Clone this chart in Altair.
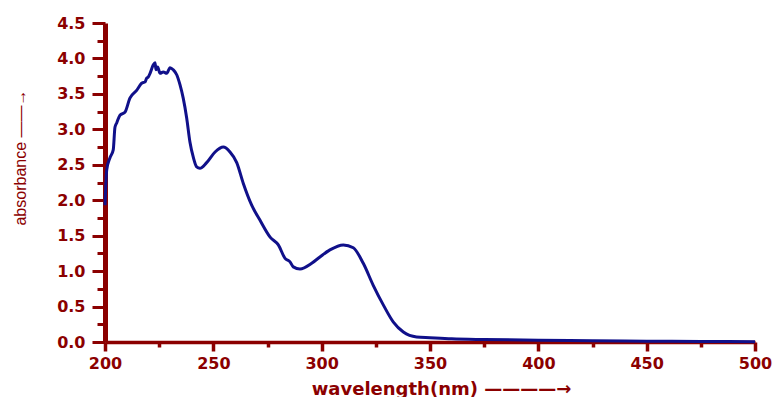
import altair as alt
import pandas as pd

wavelength = [200.0, 200.8, 202.3, 203.8, 204.6, 205.4, 206.9, 209.2, 211.5, 214.6,
              216.9, 218.5, 219.2, 220.0, 220.8, 222.3, 223.1, 223.5, 224.3, 225.4,
              226.9, 228.5, 230.0, 231.5, 233.1, 234.6, 236.1, 237.7, 239.2, 240.8,
              242.3, 243.8, 246.9, 250.8, 254.6, 257.7, 260.8, 263.8, 267.7, 271.5,
              276.2, 280.0, 283.1, 285.4, 286.9, 290.0, 295.4, 299.2, 303.8, 310.0,
              314.6, 319.2, 323.8, 328.5, 333.1, 337.7, 343.8, 350, 360, 375,
              400, 425, 450, 475, 500]
absorbance = [1.93, 2.43, 2.60, 2.71, 3.03, 3.09, 3.20, 3.24, 3.44, 3.55,
              3.65, 3.67, 3.72, 3.74, 3.79, 3.91, 3.94, 3.84, 3.88, 3.79,
              3.81, 3.79, 3.87, 3.84, 3.77, 3.63, 3.44, 3.16, 2.82, 2.60,
              2.47, 2.45, 2.53, 2.68, 2.75, 2.68, 2.53, 2.24, 1.93, 1.72,
              1.48, 1.37, 1.18, 1.13, 1.06, 1.03, 1.11, 1.20, 1.30, 1.37,
              1.33, 1.11, 0.80, 0.52, 0.28, 0.14, 0.07, 0.06, 0.045, 0.035,
              0.025, 0.018, 0.012, 0.008, 0.005]

x_ticks = list(range(200, 501, 25))
y_ticks = [i * 0.25 for i in range(19)]

df = pd.DataFrame({"wavelength": wavelength, "absorbance": absorbance})

RED = "#8B0000"

chart = alt.Chart(df).mark_line(
    color="#10108a", strokeWidth=3, interpolate="monotone"
).encode(
    x=alt.X("wavelength:Q",
            scale=alt.Scale(domain=[200, 500], nice=False, zero=False),
            axis=alt.Axis(
                values=x_ticks,
                labelExpr="datum.value % 50 === 0 ? format(datum.value, 'd') : ''",
                title="wavelength(nm)  ————→",
                titleFont="DejaVu Sans", titleFontSize=18, titleFontWeight="bold",
                titleColor=RED, titleX=336, titleY=47, titleAlign="center",
                titleBaseline="middle", titleAnchor="middle",
                labelFont="DejaVu Sans", labelFontSize=16, labelFontWeight="bold",
                labelColor=RED, labelPadding=4, labelFlush=False, labelOverlap=False,
                domainColor=RED, domainWidth=3.5, tickColor=RED, tickWidth=3.5,
                tickSize={"condition": {"test": "datum.value % 50 === 0", "value": 9}, "value": 5},
                grid=False,
            )),
    y=alt.Y("absorbance:Q",
            scale=alt.Scale(domain=[0, 4.5], nice=False),
            axis=alt.Axis(
                values=y_ticks,
                labelExpr="datum.value % 0.5 === 0 ? format(datum.value, '.1f') : ''",
                title="absorbance  ——→",
                titleFont="Liberation Sans", titleFontSize=16, titleFontWeight="normal",
                titleColor=RED, titleAngle=270, titleX=-85, titleY=134,
                titleAlign="center", titleBaseline="middle", titleAnchor="middle",
                labelFont="DejaVu Sans", labelFontSize=16, labelFontWeight="bold",
                labelColor=RED, labelPadding=7, labelOverlap=False,
                domainColor=RED, domainWidth=5, tickColor=RED, tickWidth=3,
                tickSize={"condition": {"test": "datum.value % 0.5 === 0", "value": 13}, "value": 8},
                grid=False,
            )),
).properties(
    width=650, height=319,
    padding={"left": 105, "top": 23, "right": 19, "bottom": 55},
    autosize="none",
).configure_view(stroke=None)

chart.save("out.html", embed_options={"renderer": "svg", "actions": False})
